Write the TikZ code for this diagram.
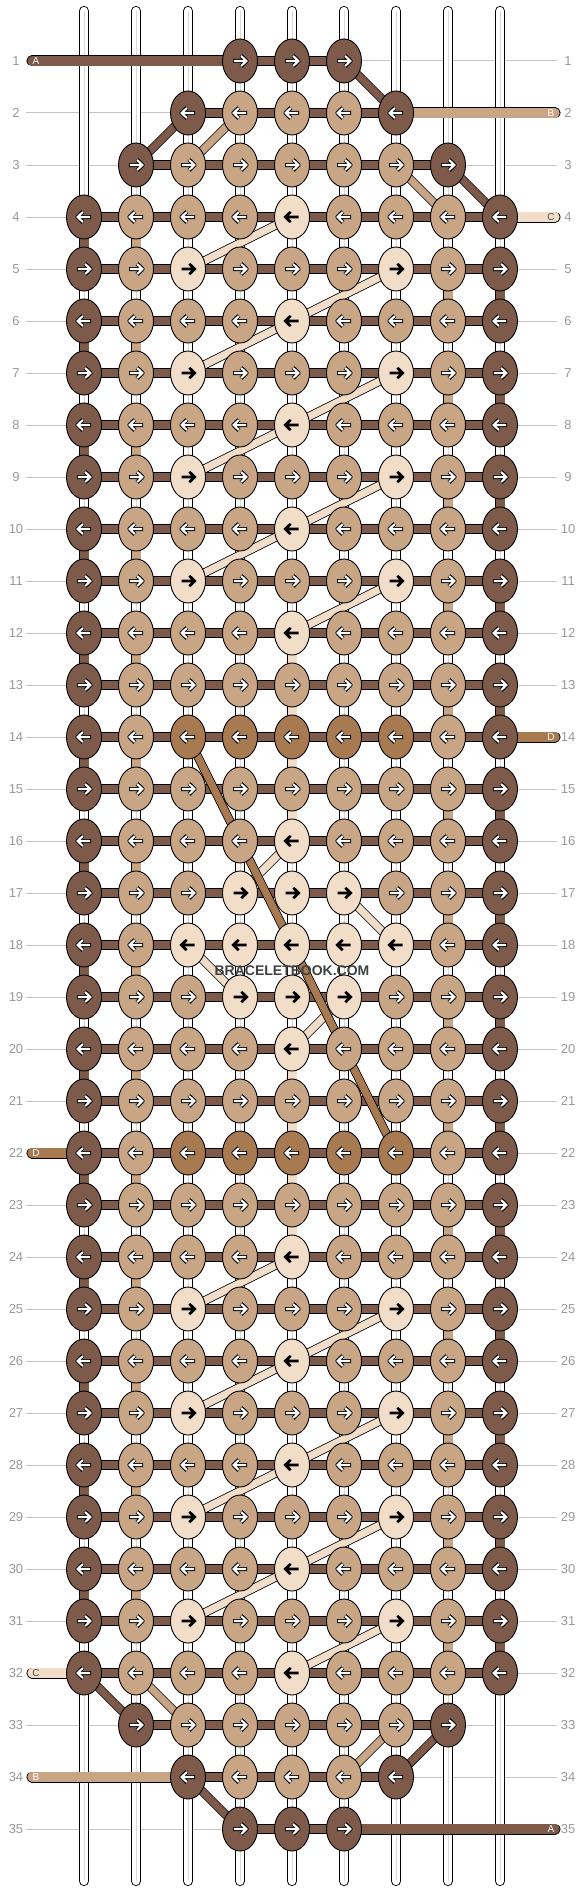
\documentclass[tikz,border=0pt]{standalone}
\usepackage{fontspec}
\setmainfont{Liberation Sans}
\usetikzlibrary{shapes.geometric}
\definecolor{c0}{HTML}{7E5A4B}
\definecolor{c1}{HTML}{C8A584}
\definecolor{c2}{HTML}{F2DEC8}
\definecolor{c3}{HTML}{A87A52}
\definecolor{guidegray}{HTML}{C4C4C4}
\definecolor{labgray}{HTML}{9A9A9A}
\definecolor{tubegray}{HTML}{DADADA}
\tikzset{
  knot/.style={ellipse, draw=black, line width=0.9pt, minimum width=35pt, minimum height=44pt, inner sep=0pt},
  guide/.style={draw=guidegray, line width=1pt},
  rowlab/.style={text=labgray, font=\fontsize{13}{13}\selectfont, inner sep=0pt},
  tube/.style={draw=black, double=white, double distance=8.4pt, line width=0.9pt, line cap=round},
  tubecore/.style={draw=tubegray, line width=1pt},
  hbar/.style={draw=black, double=c0, double distance=8.6pt, line width=0.9pt},
  vseg/.style={draw=black, double=#1, double distance=9pt, line width=0.9pt},
  diag/.style={draw=black, double=#1, double distance=7.2pt, line width=0.8pt},
  endthread/.style={draw=black, double=#1, double distance=9.2pt, line width=0.9pt, line cap=round},
  endlab/.style={font=\fontsize{10}{10}\selectfont, inner sep=0pt, text=#1},
  warr/.pic={
    \draw[black, line width=4pt, line join=round, line cap=butt] (-7,0) -- (6,0) (1,-5.4) -- (6.6,0) -- (1,5.4);
    \draw[white, line width=2.1pt, line join=miter, line cap=butt] (-6.2,0) -- (6,0) (1.2,-5) -- (6.4,0) -- (1.2,5);
  },
  barr/.pic={
    \draw[black, line width=2.8pt, line join=miter, line cap=butt] (-6.5,0) -- (6,0) (1.3,-5.2) -- (6.6,0) -- (1.3,5.2);
  },
}
\begin{document}
\begin{tikzpicture}[x=1pt,y=-1pt]
\useasboundingbox (0,0) rectangle (584,1892);
\fill[white] (0,0) rectangle (584,1892);
% knot positions
\foreach \cc in {0,...,8}{\foreach \r in {1,...,35}{
  \coordinate (p-\cc-\r) at ({84+52*\cc},{61+52*(\r-1)});}}
% guides and row labels
\foreach \r in {1,...,35}{
  \coordinate (gl-\r) at (26,{61+52*(\r-1)});
  \coordinate (gr-\r) at (557,{61+52*(\r-1)});
  \draw[guide] (gl-\r) -- (gr-\r);
  \node[rowlab] (ll-\r) at (16,{61+52*(\r-1)}) {\r};
  \node[rowlab] (rl-\r) at (568,{61+52*(\r-1)}) {\r};
}
% tubes
\foreach \cc in {0,...,8}{
  \coordinate (tt-\cc) at ({84+52*\cc},11);
  \coordinate (tb-\cc) at ({84+52*\cc},1881);
  \draw[tube] (tt-\cc) -- (tb-\cc);
  \draw[tubecore] (tt-\cc) -- (tb-\cc);
}
% vertical coloured segments
\foreach \r in {4,6,...,30}{\pgfmathtruncatemacro\s{\r+1}
  \draw[vseg=c0] (p-0-\r) -- (p-0-\s);
  \draw[vseg=c1] (p-1-\r) -- (p-1-\s);}
\foreach \r in {5,7,...,31}{\pgfmathtruncatemacro\s{\r+1}
  \draw[vseg=c1] (p-7-\r) -- (p-7-\s);
  \draw[vseg=c0] (p-8-\r) -- (p-8-\s);}
\foreach \r in {12,13,14,15,20,21,22,23}{\pgfmathtruncatemacro\s{\r+1}
  \draw[vseg=c2] (p-4-\r) -- (p-4-\s);}
% horizontal bars
\foreach \r/\lo/\hi in {1/3/5,2/2/6,3/1/7,33/1/7,34/2/6,35/3/5}{\draw[hbar] (p-\lo-\r) -- (p-\hi-\r);}
\foreach \r in {4,...,32}{\draw[hbar] (p-0-\r) -- (p-8-\r);}
% end threads
\coordinate (eA1) at (32,61);
\coordinate (eB2) at (555,113);
\coordinate (eC4) at (555,217);
\coordinate (eD14) at (555,737);
\coordinate (eD22) at (32,1153);
\coordinate (eC32) at (32,1673);
\coordinate (eB34) at (32,1777);
\coordinate (eA35) at (555,1829);
\draw[endthread=c0] (p-3-1) -- (eA1);
\draw[endthread=c1] (p-6-2) -- (eB2);
\draw[endthread=c2] (p-8-4) -- (eC4);
\draw[endthread=c3] (p-8-14) -- (eD14);
\draw[endthread=c3] (p-0-22) -- (eD22);
\draw[endthread=c2] (p-0-32) -- (eC32);
\draw[endthread=c1] (p-2-34) -- (eB34);
\draw[endthread=c0] (p-5-35) -- (eA35);
\node[endlab=white] (lA1) at (36,61) {A};
\node[endlab=white] (lB2) at (551,113) {B};
\node[endlab=black!70] (lC4) at (551,217) {C};
\node[endlab=white] (lD14) at (551,737) {D};
\node[endlab=white] (lD22) at (36,1153) {D};
\node[endlab=black!70] (lC32) at (36,1673) {C};
\node[endlab=white] (lB34) at (36,1777) {B};
\node[endlab=white] (lA35) at (551,1829) {A};
% diagonals
\foreach \a/\b in {5-1/6-2,2-2/1-3,7-3/8-4,0-32/1-33,7-33/6-34,2-34/3-35}{\draw[diag=c0] (p-\a) -- (p-\b);}
\foreach \a/\b in {3-2/2-3,6-3/7-4,1-32/2-33,6-33/5-34}{\draw[diag=c1] (p-\a) -- (p-\b);}
\foreach \r in {4,6,8,10,24,26,28,30}{\pgfmathtruncatemacro\s{\r+1}\draw[diag=c2] (p-4-\r) -- (p-2-\s);}
\foreach \r in {5,7,9,11,25,27,29,31}{\pgfmathtruncatemacro\s{\r+1}\draw[diag=c2] (p-6-\r) -- (p-4-\s);}
\foreach \a/\b in {4-16/3-17,5-17/6-18,2-18/3-19,5-19/4-20}{\draw[diag=c2] (p-\a) -- (p-\b);}
\draw[diag=c3] (p-2-14) -- (p-6-22);
% knots
\foreach \r/\lo/\cols in {
 1/3/{0,0,0},
 2/2/{0,1,1,1,0},
 3/1/{0,1,1,1,1,1,0},
 4/0/{0,1,1,1,2,1,1,1,0},
 5/0/{0,1,2,1,1,1,2,1,0},
 6/0/{0,1,1,1,2,1,1,1,0},
 7/0/{0,1,2,1,1,1,2,1,0},
 8/0/{0,1,1,1,2,1,1,1,0},
 9/0/{0,1,2,1,1,1,2,1,0},
 10/0/{0,1,1,1,2,1,1,1,0},
 11/0/{0,1,2,1,1,1,2,1,0},
 12/0/{0,1,1,1,2,1,1,1,0},
 13/0/{0,1,1,1,1,1,1,1,0},
 14/0/{0,1,3,3,3,3,3,1,0},
 15/0/{0,1,1,1,1,1,1,1,0},
 16/0/{0,1,1,1,2,1,1,1,0},
 17/0/{0,1,1,2,2,2,1,1,0},
 18/0/{0,1,2,2,2,2,2,1,0},
 19/0/{0,1,1,2,2,2,1,1,0},
 20/0/{0,1,1,1,2,1,1,1,0},
 21/0/{0,1,1,1,1,1,1,1,0},
 22/0/{0,1,3,3,3,3,3,1,0},
 23/0/{0,1,1,1,1,1,1,1,0},
 24/0/{0,1,1,1,2,1,1,1,0},
 25/0/{0,1,2,1,1,1,2,1,0},
 26/0/{0,1,1,1,2,1,1,1,0},
 27/0/{0,1,2,1,1,1,2,1,0},
 28/0/{0,1,1,1,2,1,1,1,0},
 29/0/{0,1,2,1,1,1,2,1,0},
 30/0/{0,1,1,1,2,1,1,1,0},
 31/0/{0,1,2,1,1,1,2,1,0},
 32/0/{0,1,1,1,2,1,1,1,0},
 33/1/{0,1,1,1,1,1,0},
 34/2/{0,1,1,1,0},
 35/3/{0,0,0}}{
  \foreach \k [count=\i from 0] in \cols {
    \pgfmathtruncatemacro\cc{\lo+\i}
    \node[knot, fill=c\k] (k-\cc-\r) at (p-\cc-\r) {};
    \ifodd\r\relax\def\dir{1}\else\def\dir{-1}\fi
    \ifnum\k=2\relax
      \pic[xscale=\dir] at (k-\cc-\r) {barr};
    \else
      \pic[xscale=\dir] at (k-\cc-\r) {warr};
    \fi
  }
}
% watermark
\node[font=\bfseries\fontsize{14}{14}\selectfont, text=black!75, inner sep=0pt] (wm) at (292,971) {BRACELETBOOK.COM};
\end{tikzpicture}
\end{document}
